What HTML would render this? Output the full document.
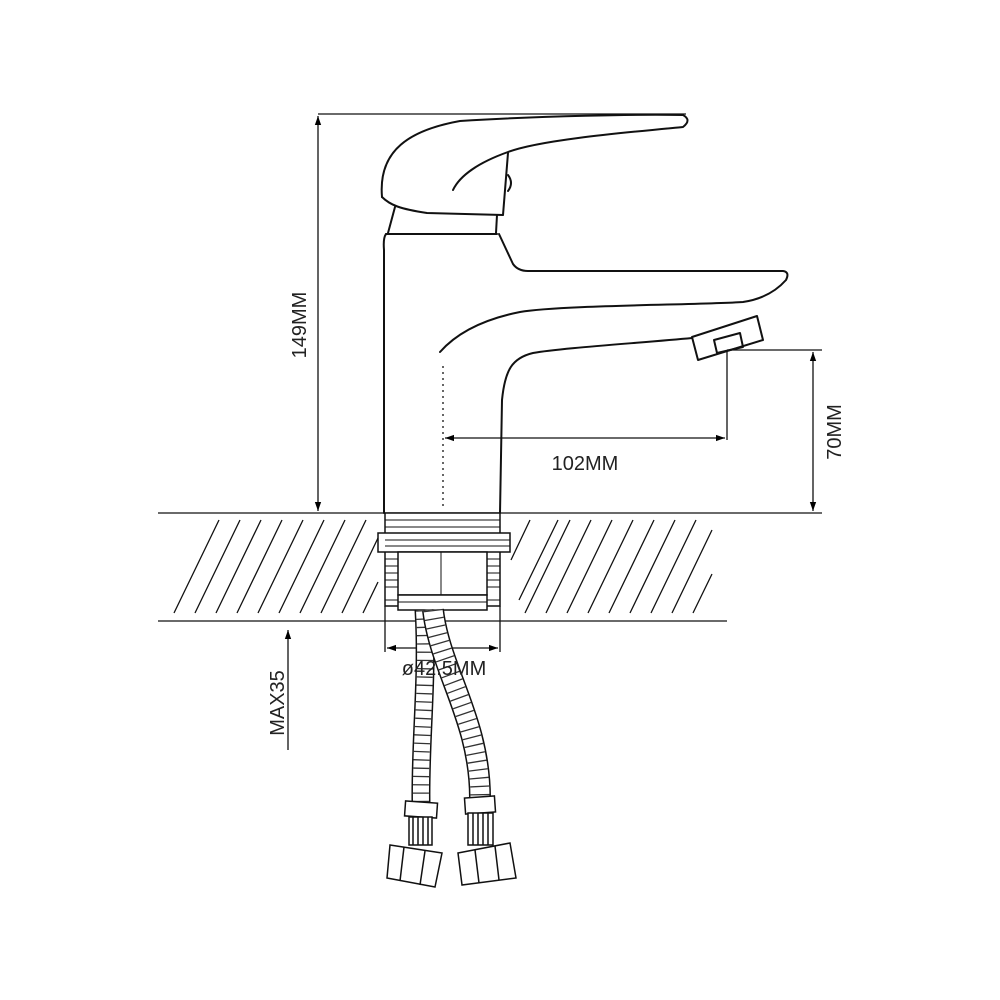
<!DOCTYPE html>
<html><head><style>html,body{margin:0;padding:0;background:#fff}svg{display:block}</style></head>
<body>
<svg width="1000" height="1000" viewBox="0 0 1000 1000" xmlns="http://www.w3.org/2000/svg" font-family="Liberation Sans, sans-serif">
<defs>
<marker id="a" viewBox="0 0 10 10" refX="10" refY="5" markerWidth="9" markerHeight="9" orient="auto-start-reverse" markerUnits="userSpaceOnUse"><path d="M0,1.5 L10,5 L0,8.5z" fill="#000"/></marker>
</defs>
<g fill="none" stroke="#111" stroke-width="2" stroke-linejoin="round" stroke-linecap="round">
<path d="M382,197 C378,150 410,130 460,121 C540,116 640,114 683,115 Q692,120 683,127 C620,133 540,140 508,152 C480,162 460,175 453,190"/>
<path d="M382,197 C390,205 400,209 427,213 L503,215 L508,153"/>
<path d="M508,175 q6,8 0,16"/>
<path d="M395,207 L388,233 M497,215 L496,233"/>
<path d="M386,234 L497,234"/>
<path d="M386,234 Q383,238 384,250 L384,513"/>
<path d="M499,234 L513,264 Q518,271 528,271 L783,271 Q790,272 786,280 Q770,298 743,302 C700,305 560,305 520,312 C480,320 455,335 440,352"/>
<path d="M692,338 C640,343 560,348 533,353 C512,358 505,370 502,400 L500,513"/>
<path d="M692,337 L757,316 L763,340 L698,360 Z"/>
<path d="M714,340 L740,333 L743,347 L717,353 Z"/>
</g>
<line x1="443" y1="366" x2="443" y2="510" stroke="#333" stroke-width="1.5" stroke-dasharray="2 4"/>
<g stroke="#111" stroke-width="1.3" fill="none">
<line x1="318" y1="114" x2="686" y2="114"/>
<line x1="318" y1="116" x2="318" y2="511" marker-start="url(#a)" marker-end="url(#a)"/>
<line x1="727" y1="350" x2="727" y2="440"/>
<line x1="727" y1="350" x2="822" y2="350"/>
<line x1="445" y1="438" x2="725" y2="438" marker-start="url(#a)" marker-end="url(#a)"/>
<line x1="813" y1="352" x2="813" y2="511" marker-start="url(#a)" marker-end="url(#a)"/>
<line x1="385" y1="606" x2="385" y2="652"/>
<line x1="500" y1="606" x2="500" y2="652"/>
<line x1="387" y1="648" x2="498" y2="648" marker-start="url(#a)" marker-end="url(#a)"/>
<line x1="288" y1="750" x2="288" y2="630" marker-end="url(#a)"/>
<line x1="158" y1="513" x2="822" y2="513"/>
<line x1="158" y1="621" x2="727" y2="621"/>
<path d="M174,613 L219,520 M195,613 L240,520 M216,613 L261,520 M237,613 L282,520 M258,613 L303,520 M279,613 L324,520 M300,613 L345,520 M321,613 L366,520 M342,613 L378,538 M363,613 L378,582
M519,600 L558,520 M525,613 L570,520 M546,613 L591,520 M567,613 L612,520 M588,613 L633,520 M609,613 L654,520 M630,613 L675,520 M651,613 L696,520 M672,613 L712,530 M693,613 L712,574 M511,560 L530,520"/>
</g>
<g stroke="#111" stroke-width="1.5" fill="#fff">
<rect x="385" y="513" width="115" height="93"/>
<rect x="378" y="533" width="132" height="19"/>
<rect x="398" y="552" width="89" height="43"/>
<rect x="398" y="595" width="89" height="15"/>
</g>
<g stroke="#111" stroke-width="1">
<path d="M385,520H500M385,527H500M385,540H510M385,546H510M385,559H398M385,566H398M385,573H398M385,580H398M385,587H398M385,600H398M487,559H500M487,566H500M487,573H500M487,580H500M487,587H500M487,600H500M441,552V595M398,602H487"/>
</g>
<g fill="none">
<path d="M424,610 C428,680 420,740 421,803" stroke="#111" stroke-width="19"/>
<path d="M424,610 C428,680 420,740 421,803" stroke="#fff" stroke-width="16"/>
<path d="M424,610 C428,680 420,740 421,803" stroke="#333" stroke-width="16" stroke-dasharray="1.3 7"/>
<path d="M433,610 C440,670 480,720 480,798" stroke="#111" stroke-width="22"/>
<path d="M433,610 C440,670 480,720 480,798" stroke="#fff" stroke-width="19"/>
<path d="M433,610 C440,670 480,720 480,798" stroke="#333" stroke-width="19" stroke-dasharray="1.3 7"/>
</g>
<g stroke="#111" stroke-width="1.5" fill="#fff">
<rect x="405" y="802" width="32" height="15" transform="rotate(4 421 810)"/>
<rect x="409" y="817" width="23" height="28"/>
<path d="M413,817V845M418,817V845M423,817V845M428,817V845" fill="none"/>
<path d="M390,845 L442,853 L435,887 L387,878 Z"/>
<path d="M404,847 L400,881 M425,851 L420,885" fill="none"/>
<rect x="465" y="797" width="30" height="16" transform="rotate(-4 480 805)"/>
<rect x="468" y="813" width="25" height="32"/>
<path d="M473,813V845M478,813V845M483,813V845M488,813V845" fill="none"/>
<path d="M458,853 L510,843 L516,878 L462,885 Z"/>
<path d="M475,850 L479,883 M495,846 L499,880" fill="none"/>
</g>
<g fill="#222" font-size="20">
<text x="585" y="470" text-anchor="middle">102MM</text>
<text x="444" y="675" text-anchor="middle">ø42.5MM</text>
<text transform="translate(306,325) rotate(-90)" text-anchor="middle">149MM</text>
<text transform="translate(841,432) rotate(-90)" text-anchor="middle">70MM</text>
<text transform="translate(284,703) rotate(-90)" text-anchor="middle">MAX35</text>
</g>
</svg>
</body></html>
